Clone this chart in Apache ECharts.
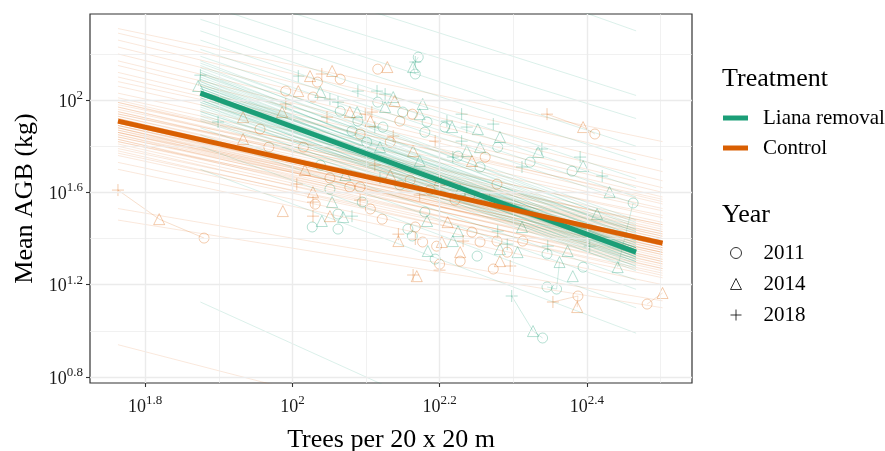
<!DOCTYPE html>
<html><head><meta charset="utf-8">
<script src="https://cdn.jsdelivr.net/npm/echarts@6/dist/echarts.min.js"></script>
<style>html,body{margin:0;padding:0;background:#fff}#c{width:885px;height:451px}</style>
</head><body><div id="c"></div>
<script>
// ---- axes (log10 units) ----
const xTicks = [1.8, 2.0, 2.2, 2.4];
const xMinor = [1.9, 2.1, 2.3, 2.5];
const yTicks = [0.8, 1.2, 1.6, 2.0];
const yMinor = [1.0, 1.4, 1.8, 2.2];
const xRange = [1.725, 2.543];
const yRange = [0.774, 2.373];

// ---- treatments / years ----
const treatments = ['Liana removal', 'Control'];
const years = ['2011', '2014', '2018'];

// ---- observed points [log10 trees, log10 AGB] ----
const greenCircles = [[2.171,2.186],[2.167,2.113],[2.116,1.991],[2.065,1.952],[2.089,1.909],[2.150,1.948],[2.183,1.905],[2.180,1.861],[2.123,1.883],[2.081,1.866],[2.207,1.883],[2.225,1.757],[2.255,1.710],[2.101,1.818],[2.279,1.796],[2.323,1.731],[2.380,1.692],[2.051,1.614],[2.095,1.558],[2.062,1.506],[2.027,1.450],[2.062,1.441],[2.157,1.441],[2.163,1.411],[2.194,1.311],[2.251,1.324],[2.180,1.515],[2.346,1.333],[2.395,1.276],[2.346,1.190],[2.359,1.181],[2.340,0.969],[2.463,1.554],[2.038,1.718],[2.146,1.632]];
const greenTriangles = [[1.872,2.061],[2.038,2.035],[2.088,1.948],[2.137,2.013],[2.126,1.970],[2.164,2.143],[2.177,1.983],[2.173,1.939],[2.217,1.883],[2.252,1.874],[2.255,1.796],[2.237,1.779],[2.119,1.796],[2.173,1.736],[2.282,1.840],[2.334,1.775],[2.395,1.714],[2.431,1.601],[2.054,1.558],[2.040,1.476],[2.069,1.493],[2.184,1.346],[2.183,1.476],[2.218,1.389],[2.225,1.432],[2.282,1.354],[2.306,1.341],[2.312,1.450],[2.363,1.298],[2.374,1.346],[2.381,1.237],[2.327,0.999],[2.414,1.506],[2.442,1.276],[2.072,1.675],[2.228,1.610]];
const greenPluses = [[1.875,2.108],[1.899,1.905],[2.008,2.104],[2.051,2.004],[2.062,1.991],[2.089,2.039],[2.115,2.039],[2.126,2.026],[2.112,1.883],[2.167,2.165],[2.210,1.909],[2.230,1.939],[2.237,1.883],[2.230,1.822],[2.218,1.753],[2.273,1.896],[2.339,1.788],[2.312,1.710],[2.391,1.753],[2.421,1.671],[2.081,1.497],[2.279,1.432],[2.292,1.376],[2.347,1.367],[2.298,1.151],[2.404,1.367],[2.119,1.662],[2.268,1.567]];
const orangeCircles = [[1.880,1.402],[1.991,2.039],[1.956,1.874],[1.968,1.796],[2.065,2.091],[2.034,2.078],[2.028,2.013],[2.116,2.134],[2.163,1.939],[2.146,1.909],[2.133,1.818],[2.092,1.853],[2.015,1.796],[2.262,1.753],[2.411,1.853],[2.278,1.636],[2.078,1.623],[2.092,1.623],[2.106,1.528],[2.122,1.484],[2.167,1.450],[2.177,1.385],[2.196,1.367],[2.200,1.289],[2.228,1.302],[2.244,1.428],[2.255,1.385],[2.278,1.389],[2.292,1.341],[2.273,1.268],[2.313,1.389],[2.388,1.151],[2.482,1.116],[2.031,1.549],[2.160,1.653],[2.187,1.610],[2.221,1.567],[2.241,1.588],[2.051,1.662]];
const orangeTriangles = [[1.819,1.484],[1.987,1.519],[1.986,1.948],[1.933,1.926],[1.933,1.831],[2.024,2.104],[2.054,2.126],[2.008,2.039],[2.078,1.948],[2.106,1.909],[2.139,1.996],[2.129,2.143],[2.164,1.779],[2.244,1.736],[2.395,1.883],[2.028,1.601],[2.051,1.497],[2.144,1.389],[2.203,1.385],[2.169,1.237],[2.228,1.341],[2.211,1.471],[2.282,1.302],[2.387,1.103],[2.503,1.164],[2.200,1.653],[2.133,1.675],[2.017,1.697]];
const orangePluses = [[1.763,1.610],[1.991,1.983],[2.040,2.113],[2.047,1.926],[2.099,1.939],[2.108,1.948],[2.137,1.844],[2.194,1.822],[2.346,1.939],[2.006,1.636],[2.028,1.558],[2.028,1.497],[2.144,1.419],[2.167,1.398],[2.164,1.242],[2.200,1.263],[2.232,1.389],[2.296,1.281],[2.354,1.125],[2.173,1.588],[2.092,1.567],[2.112,1.718]];

// ---- plot trajectories across census years ----
const greenTracks = [[[2.298,1.151],[2.327,0.999],[2.340,0.969]],[[2.171,2.186],[2.167,2.165],[2.164,2.143],[2.167,2.113]],[[2.463,1.554],[2.442,1.276]],[[2.346,1.190],[2.359,1.181],[2.363,1.298]],[[1.875,2.108],[1.872,2.061]]];
const orangeTracks = [[[1.763,1.610],[1.819,1.484],[1.880,1.402]],[[2.346,1.939],[2.395,1.883],[2.411,1.853]],[[2.354,1.125],[2.388,1.151],[2.387,1.103]],[[2.482,1.116],[2.503,1.164]]];

// ---- fitted lines: x extent and y at both ends ----
const greenXExtent = [1.875, 2.467];
const orangeXExtent = [1.763, 2.503];
const greenFit = [2.03, 1.341];
const orangeFit = [1.909, 1.380];

// ---- thin draws: [y at left end, y at right end] ----
const greenDraws = [[2.17,1.45],[2.15,1.42],[2.14,1.47],[2.13,1.40],[2.12,1.44],[2.11,1.38],[2.10,1.41],[2.09,1.36],[2.09,1.43],[2.08,1.39],[2.07,1.35],[2.07,1.41],[2.06,1.37],[2.05,1.33],[2.05,1.39],[2.04,1.36],[2.04,1.32],[2.03,1.38],[2.03,1.34],[2.02,1.30],[2.02,1.36],[2.01,1.33],[2.00,1.29],[2.00,1.35],[1.99,1.31],[1.98,1.34],[1.98,1.28],[1.97,1.32],[1.96,1.30],[1.95,1.33],[1.94,1.28],[1.93,1.31],[1.92,1.27],[1.91,1.30],[2.06,1.43],[2.11,1.46],[2.16,1.48],[2.01,1.40],[1.99,1.37],[2.08,1.32],[2.12,1.35],[1.95,1.36],[2.04,1.44],[2.00,1.26],
  [2.05,1.35],[2.03,1.33],[2.02,1.35],[2.04,1.34],[2.01,1.31],[2.06,1.36],[2.03,1.36],[2.02,1.32],
  [2.35,1.74],[2.30,1.66],[2.26,1.62],[2.22,1.58],[2.19,1.55],[2.42,1.80],[2.97,2.30],[2.50,1.92],[2.62,2.02],[1.88,1.22],[1.85,1.18],[1.80,1.10],[1.70,0.99],[1.125,0.27]];
const orangeDraws = [[2.03,1.52],[2.01,1.49],[1.99,1.47],[1.98,1.50],[1.97,1.44],[1.96,1.46],[1.95,1.42],[1.95,1.40],[1.94,1.43],[1.93,1.41],[1.93,1.38],[1.92,1.39],[1.92,1.36],[1.91,1.40],[1.91,1.37],[1.90,1.38],[1.90,1.35],[1.89,1.39],[1.89,1.34],[1.88,1.36],[1.88,1.33],[1.87,1.37],[1.87,1.31],[1.86,1.35],[1.86,1.32],[1.85,1.34],[1.85,1.29],[1.84,1.33],[1.83,1.30],[1.83,1.27],[1.82,1.31],[1.81,1.28],[1.80,1.26],[1.79,1.29],[1.78,1.24],[1.77,1.27],[1.94,1.46],[1.97,1.41],[1.90,1.42],[1.86,1.38],[1.84,1.36],[1.99,1.43],[2.00,1.45],[1.88,1.30],[1.82,1.34],
  [1.91,1.38],[1.90,1.37],[1.92,1.38],[1.89,1.37],[1.91,1.39],
  [2.31,1.82],[2.29,1.74],[2.26,1.69],[2.23,1.65],[2.20,1.62],[2.17,1.60],[2.15,1.58],[2.12,1.56],[2.10,1.55],[2.08,1.57],[2.06,1.53],
  [1.76,1.25],[1.73,1.23],[1.70,1.20],[1.53,1.13],[1.48,1.10],[0.94,0.33]];

const GREEN = '#1B9E77', ORANGE = '#D95F02';
const FONT = 'Liberation Serif';
const rgba = (hex, a) => { const n = parseInt(hex.slice(1), 16); return `rgba(${n>>16},${(n>>8)&255},${n&255},${a})`; };
const PLUS = 'path://M5,0L5,10M0,5L10,5';

function pointSeries(name, data, color, symbol, size) {
  return { name, type: 'scatter', data, symbol, symbolSize: size, silent: true, z: 3,
    itemStyle: { color: 'rgba(0,0,0,0)', borderColor: rgba(color, 0.4), borderWidth: 1 } };
}
function drawSeries(draws, ext, color, op) {
  return { type: 'lines', coordinateSystem: 'cartesian2d', silent: true, clip: true, z: 4,
    data: draws.map(d => ({ coords: [[ext[0], d[0]], [ext[1], d[1]]] })),
    lineStyle: { color: color, width: 0.8, opacity: op } };
}
function trackSeries(tracks, color) {
  return { type: 'lines', coordinateSystem: 'cartesian2d', polyline: true, silent: true, clip: true, z: 3,
    data: tracks.map(t => ({ coords: t })), lineStyle: { color: color, width: 0.8, opacity: 0.25 } };
}
const major = { color: '#EBEBEB', width: 1.4, type: 'solid' };
const minor = { color: '#EBEBEB', width: 0.7, type: 'solid' };
const fmtSup = v => { const s = (Math.round(v * 10) / 10).toString(); return '{b|10}{s|' + s + '}'; };
const richLab = {
  b: { fontFamily: FONT, fontSize: 18, color: '#1a1a1a', lineHeight: 22, verticalAlign: 'bottom' },
  s: { fontFamily: FONT, fontSize: 13, color: '#1a1a1a', lineHeight: 22, verticalAlign: 'top' }
};

const chart = echarts.init(document.getElementById('c'), null, { renderer: 'canvas' });
chart.setOption({
  animation: false,
  backgroundColor: '#fff',
  title: [
    { text: 'Treatment', left: 722, top: 64, padding: 0, textStyle: { fontFamily: FONT, fontSize: 26, fontWeight: 'normal', color: '#000', lineHeight: 30 } },
    { text: 'Year', left: 722, top: 200, padding: 0, textStyle: { fontFamily: FONT, fontSize: 26, fontWeight: 'normal', color: '#000', lineHeight: 30 } }
  ],
  legend: [
    { data: [{ name: treatments[0], icon: 'rect' }, { name: treatments[1], icon: 'rect' }],
      orient: 'vertical', left: 723, top: 107, padding: 0, itemWidth: 25, itemHeight: 5, itemGap: 8,
      selectedMode: false,
      textStyle: { fontFamily: FONT, fontSize: 21, color: '#000', lineHeight: 22, padding: [0, 0, 0, 10] } },
    { data: [
        { name: years[0], icon: 'circle', itemStyle: { color: 'rgba(0,0,0,0)', borderColor: '#000', borderWidth: 1 } },
        { name: years[1], icon: 'triangle', itemStyle: { color: 'rgba(0,0,0,0)', borderColor: '#000', borderWidth: 1 } },
        { name: years[2], icon: PLUS, itemStyle: { color: 'rgba(0,0,0,0)', borderColor: '#000', borderWidth: 1 } }
      ], orient: 'vertical', left: 730, top: 242, padding: 0, itemWidth: 11, itemHeight: 11, itemGap: 9,
      selectedMode: false,
      textStyle: { fontFamily: FONT, fontSize: 21, color: '#000', lineHeight: 22, padding: [0, 0, 0, 17] } }
  ],
  grid: { left: 90, right: 193, top: 14, bottom: 68, outerBoundsMode: 'none', containLabel: false,
    show: true, borderColor: '#333', borderWidth: 1.2, backgroundColor: '#fff' },
  xAxis: { type: 'value', min: xRange[0], max: xRange[1],
    name: 'Trees per 20 x 20 m', nameLocation: 'middle', nameGap: 44,
    nameTextStyle: { fontFamily: FONT, fontSize: 26, color: '#000' },
    axisLine: { show: false }, splitLine: { show: false },
    axisTick: { show: true, customValues: xTicks, length: 4, lineStyle: { color: '#333', width: 1.1 } },
    axisLabel: { customValues: xTicks, margin: 11, formatter: fmtSup, rich: richLab } },
  yAxis: { type: 'value', min: yRange[0], max: yRange[1],
    name: 'Mean AGB (kg)', nameLocation: 'middle', nameGap: 50,
    nameTextStyle: { fontFamily: FONT, fontSize: 26, color: '#000' },
    axisLine: { show: false }, splitLine: { show: false },
    axisTick: { show: true, customValues: yTicks, length: 4, lineStyle: { color: '#333', width: 1.1 } },
    axisLabel: { customValues: yTicks, margin: 7, formatter: fmtSup, rich: richLab } },
  series: [
    { type: 'line', data: [], silent: true, z: 1,
      markLine: { silent: true, symbol: 'none', label: { show: false }, animation: false,
        data: [
          ...xMinor.map(v => ({ xAxis: v, lineStyle: minor })),
          ...yMinor.map(v => ({ yAxis: v, lineStyle: minor })),
          ...xTicks.map(v => ({ xAxis: v, lineStyle: major })),
          ...yTicks.map(v => ({ yAxis: v, lineStyle: major }))
        ] } },
    pointSeries('g2011', greenCircles, GREEN, 'circle', 10),
    pointSeries('g2014', greenTriangles, GREEN, 'triangle', 11),
    pointSeries('g2018', greenPluses, GREEN, PLUS, 12),
    pointSeries('o2011', orangeCircles, ORANGE, 'circle', 10),
    pointSeries('o2014', orangeTriangles, ORANGE, 'triangle', 11),
    pointSeries('o2018', orangePluses, ORANGE, PLUS, 12),
    trackSeries(greenTracks, GREEN),
    trackSeries(orangeTracks, ORANGE),
    drawSeries(orangeDraws, orangeXExtent, ORANGE, 0.18),
    drawSeries(greenDraws, greenXExtent, GREEN, 0.2),
    { name: treatments[0], type: 'line', z: 6, symbol: 'none', silent: true,
      data: [[greenXExtent[0], greenFit[0]], [greenXExtent[1], greenFit[1]]],
      itemStyle: { color: GREEN }, lineStyle: { color: GREEN, width: 5 } },
    { name: treatments[1], type: 'line', z: 7, symbol: 'none', silent: true,
      data: [[orangeXExtent[0], orangeFit[0]], [orangeXExtent[1], orangeFit[1]]],
      itemStyle: { color: ORANGE }, lineStyle: { color: ORANGE, width: 5 } },
    { name: years[0], type: 'scatter', data: [], symbol: 'circle' },
    { name: years[1], type: 'scatter', data: [], symbol: 'triangle' },
    { name: years[2], type: 'scatter', data: [], symbol: PLUS }
  ]
});
</script></body></html>
